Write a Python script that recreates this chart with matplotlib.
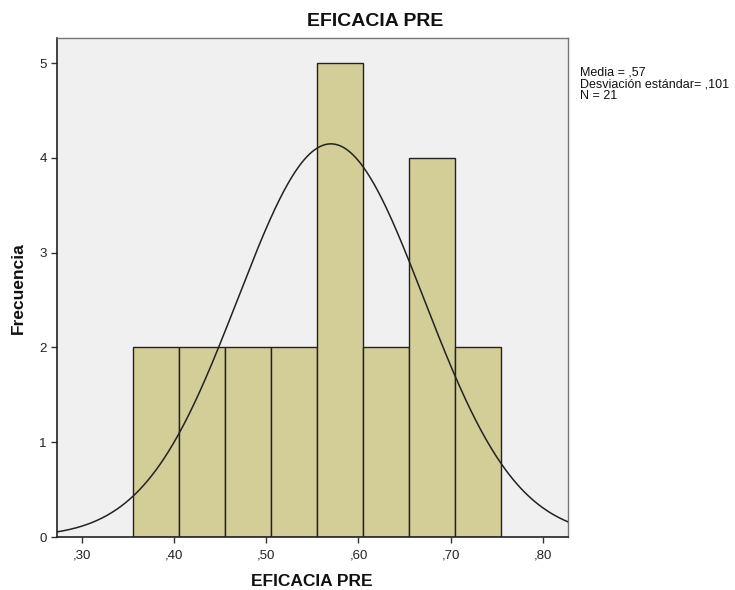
import numpy as np
import matplotlib
matplotlib.use("Agg")
import matplotlib.pyplot as plt

# Histogram of EFICACIA PRE
bin_edges = [0.355, 0.405, 0.455, 0.505, 0.555, 0.605, 0.655, 0.705, 0.755]
counts = [2, 2, 2, 2, 5, 2, 4, 2]
mean = 0.57
std = 0.101
n = 21
xticks = [0.30, 0.40, 0.50, 0.60, 0.70, 0.80]
xticklabels = [",30", ",40", ",50", ",60", ",70", ",80"]
yticks = [0, 1, 2, 3, 4, 5]

plt.rcParams['font.family'] = ['Liberation Sans', 'DejaVu Sans']

fig = plt.figure(figsize=(7.35, 5.9), dpi=100)
ax = fig.add_axes([0.0776, 0.0898, 0.695, 0.8458])
ax.set_facecolor('#F0F0F0')

widths = np.diff(bin_edges)
ax.bar(bin_edges[:-1], counts, width=widths, align='edge',
       color='#D3CE97', edgecolor='#222222', linewidth=1.0, zorder=2)

# Normal curve scaled to counts
bw = widths[0]
xs = np.linspace(0.2725, 0.8275, 400)
ys = n * bw / (std * np.sqrt(2 * np.pi)) * np.exp(-0.5 * ((xs - mean) / std) ** 2)
ax.plot(xs, ys, color='#222222', linewidth=1.1, zorder=3)

ax.set_xlim(0.2725, 0.8275)
ax.set_ylim(0, 5.264)
ax.set_xticks(xticks)
ax.set_xticklabels(xticklabels)
ax.set_yticks(yticks)
ax.tick_params(axis='both', labelsize=9.5, length=4, width=1, color='#333333', labelcolor='#222222')
ax.tick_params(axis='x', pad=5)

for side in ['left', 'bottom']:
    ax.spines[side].set_color('#222222')
    ax.spines[side].set_linewidth(1.2)
for side in ['top', 'right']:
    ax.spines[side].set_color('#777777')
    ax.spines[side].set_linewidth(1.0)

fig.text(0.511, 0.963, "EFICACIA PRE", fontsize=14, fontweight='bold',
         ha='center', va='center', color='#111111')
fig.text(0.4245, 0.0136, "EFICACIA PRE", fontsize=12.5, fontweight='bold',
         ha='center', va='center', color='#111111')
fig.text(0.0245, 0.512, "Frecuencia", fontsize=12.5, fontweight='bold',
         ha='center', va='center', rotation=90, color='#111111')

fig.text(0.789, 0.888, "Media = ,57\nDesviación estándar= ,101\nN = 21",
         fontsize=9, va='top', ha='left', linespacing=1.02, color='#111111')

fig.savefig("out.png", dpi=100, facecolor='white')
